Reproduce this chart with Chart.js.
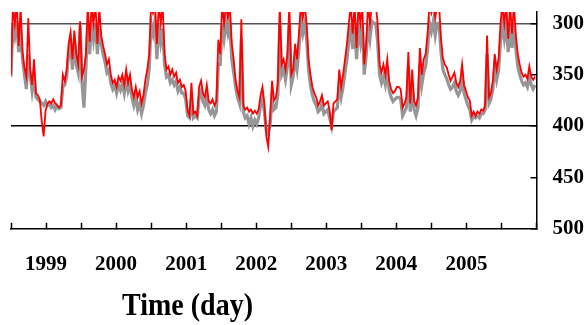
<!DOCTYPE html>
<html>
<head>
<meta charset="utf-8">
<script src="https://cdn.jsdelivr.net/npm/chart.js@4.4.1/dist/chart.umd.min.js"></script>
<style>
    body { margin: 0; background: #fff; }
    #wrap { position: relative; width: 587px; height: 325px; }
    #titulo {
        position: absolute; left: 187.5px; top: 289px;
        font-family: 'Liberation Serif', 'Times New Roman', serif;
        font-weight: bold; font-size: 28px; line-height: 28px;
        white-space: nowrap; color: #000;
        transform: translateX(-50%) scaleY(1.15); transform-origin: 50% 0;
    }
</style>
</head>
<body>
<div id="wrap">
    <canvas id="grafico" width="587" height="325"></canvas>
    <div id="titulo">Time (day)</div>
</div>
<script>
// Dados (um ponto a cada 10 dias, a partir de 1 jan 1999)
const passoDias = 10;
const rotulosAnos = ['1999', '2000', '2001', '2002', '2003', '2004', '2005'];
const ticksY = [300, 350, 400, 450, 500];

const serieVermelha = [
    350, 282, 300, 282, 322, 284, 328, 343, 352, 295,
    345, 360, 335, 368, 370, 374, 395, 410, 385, 378,
    376, 378, 374, 378, 380, 382, 380, 350, 356, 345,
    320, 309, 335, 307, 330, 340, 298, 352, 345, 330,
    282, 318, 282, 300, 282, 320, 285, 312, 322, 330,
    340, 335, 350, 358, 355, 362, 352, 356, 350, 360,
    345, 358, 350, 365, 372, 362, 372, 366, 378, 370,
    355, 345, 330, 282, 290, 282, 320, 282, 300, 282,
    330, 345, 342, 350, 345, 352, 348, 358, 355, 362,
    360, 366, 385, 390, 358, 388, 386, 390, 362, 356,
    368, 372, 360, 376, 378, 374, 380, 376, 316, 330,
    282, 300, 282, 295, 282, 320, 335, 355, 366, 372,
    296, 380, 384, 382, 386, 384, 388, 385, 388, 384,
    370, 362, 378, 410, 420, 390, 356, 375, 372, 358,
    282, 340, 335, 345, 330, 282, 350, 345, 320, 335,
    310, 282, 295, 282, 300, 335, 350, 362, 368, 372,
    380, 376, 370, 380, 378, 376, 385, 404, 378, 376,
    374, 345, 362, 350, 335, 320, 300, 282, 310, 282,
    324, 282, 300, 282, 340, 320, 282, 300, 282, 282,
    282, 300, 340, 348, 340, 350, 335, 356, 364, 368,
    366, 362, 362, 364, 382, 378, 372, 328, 378, 345,
    376, 380, 372, 324, 350, 335, 330, 310, 282, 290,
    282, 295, 282, 282, 315, 334, 340, 343, 350, 356,
    352, 348, 358, 362, 356, 340, 360, 366, 372, 375,
    390, 386, 390, 386, 388, 384, 385, 380, 312, 372,
    368, 356, 330, 345, 335, 300, 282, 300, 282, 315,
    282, 310, 282, 312, 330, 340, 348, 352, 350, 354,
    342, 352, 355, 352
];

const serieCinza = [
    352, 300, 312, 298, 328, 305, 335, 350, 364, 330,
    350, 366, 352, 372, 374, 376, 378, 380, 376, 380,
    378, 382, 380, 384, 380, 383, 382, 362, 360, 352,
    330, 318, 345, 315, 340, 348, 302, 358, 382, 345,
    300, 330, 296, 315, 300, 330, 305, 320, 330, 338,
    348, 345, 358, 364, 360, 368, 360, 365, 358, 368,
    355, 366, 360, 372, 380, 372, 384, 378, 388, 380,
    368, 360, 345, 300, 310, 298, 335, 300, 318, 305,
    340, 352, 350, 358, 355, 360, 356, 366, 362, 368,
    368, 374, 390, 392, 372, 392, 390, 392, 372, 366,
    376, 380, 372, 384, 388, 384, 390, 386, 340, 340,
    300, 315, 300, 310, 300, 335, 348, 362, 372, 378,
    315, 386, 392, 390, 398, 392, 400, 394, 398, 392,
    380, 372, 386, 405, 408, 398, 372, 384, 382, 370,
    300, 350, 345, 355, 342, 300, 360, 352, 335, 345,
    325, 298, 310, 300, 315, 345, 360, 370, 376, 380,
    386, 384, 378, 388, 386, 384, 392, 400, 386, 384,
    382, 360, 372, 362, 348, 335, 318, 300, 325, 302,
    335, 305, 318, 300, 350, 332, 300, 315, 298, 300,
    300, 318, 350, 358, 352, 360, 348, 365, 372, 376,
    374, 372, 372, 374, 390, 386, 382, 342, 386, 360,
    384, 390, 382, 340, 360, 348, 342, 325, 300, 308,
    298, 312, 300, 300, 328, 345, 350, 354, 360, 364,
    362, 358, 366, 370, 366, 352, 368, 374, 380, 384,
    394, 390, 392, 390, 392, 388, 388, 384, 330, 378,
    374, 364, 342, 355, 346, 318, 300, 315, 302, 328,
    300, 324, 300, 325, 342, 350, 356, 360, 358, 362,
    352, 360, 364, 360
];

const meioAno = 182.5;
const pontos = arr => arr.map((v, i) => ({ x: i * passoDias, y: v }));
const fonteEixo = { family: "'Liberation Serif', 'Times New Roman', serif", weight: 'bold', size: 21 };
// sem folga extra nas pontas dos eixos (e o padding dos ticks so conta uma vez)
const semFolga = a => {
    a.paddingLeft = 0; a.paddingRight = 0; a.paddingTop = 0; a.paddingBottom = 0;
    if (a.isHorizontal()) a.height -= a.options.ticks.padding;
    else a.width -= a.options.ticks.padding;
};

const ctx = document.getElementById('grafico').getContext('2d');
new Chart(ctx, {
    type: 'line',
    data: {
        datasets: [
            {
                label: 'vermelha',
                data: pontos(serieVermelha),
                borderColor: '#ff0000',
                borderWidth: 1.8,
                pointRadius: 0,
                clip: 0,
            },
            {
                label: 'cinza',
                data: pontos(serieCinza),
                borderColor: '#969696',
                borderWidth: 3.2,
                pointRadius: 0,
                clip: 0,
            }
        ]
    },
    options: {
        responsive: false,
        animation: false,
        layout: { padding: { left: 11, top: 12, right: 3, bottom: 48 } },
        plugins: { legend: { display: false }, tooltip: { enabled: false } },
        scales: {
            x: {
                type: 'linear',
                min: 0,
                max: meioAno * 15,
                afterBuildTicks: axis => {
                    axis.ticks = [];
                    for (let k = 0; k <= 15; k++) axis.ticks.push({ value: k * meioAno });
                },
                afterFit: semFolga,
                grid: { drawOnChartArea: false, tickLength: -6, tickColor: '#000', tickWidth: 1.5 },
                border: { color: '#000', width: 1.5 },
                ticks: {
                    autoSkip: false,
                    maxRotation: 0,
                    padding: 29,
                    color: '#000',
                    font: fonteEixo,
                    callback: (v, k) => (k % 2 === 1 && rotulosAnos[(k - 1) / 2]) ? rotulosAnos[(k - 1) / 2] : '',
                },
            },
            y: {
                position: 'right',
                reverse: true,
                min: 289,
                max: 500,
                afterBuildTicks: axis => { axis.ticks = ticksY.map(v => ({ value: v })); },
                afterFit: semFolga,
                grid: {
                    color: c => c.tick && c.tick.value === 300 ? '#555' : (c.tick && c.tick.value === 400 ? '#000' : 'rgba(0,0,0,0)'),
                    lineWidth: 1.5,
                    tickLength: -6,
                    tickColor: '#000',
                    tickWidth: 1.5,
                },
                border: { color: '#000', width: 1.5 },
                ticks: { padding: 22, color: '#000', font: fonteEixo },
            }
        }
    }
});
</script>
</body>
</html>
